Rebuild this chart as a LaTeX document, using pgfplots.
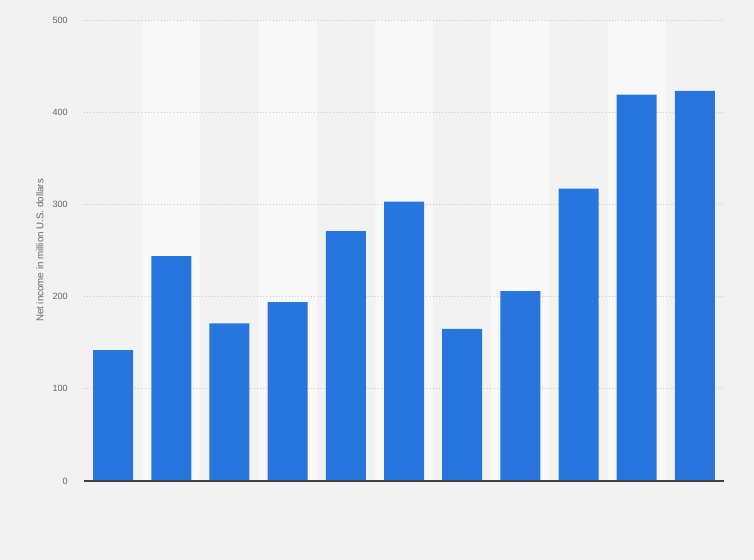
\documentclass[border=0pt]{standalone}
\usepackage{fontspec}
\setmainfont{Liberation Sans}
\usepackage{pgfplots}
\pgfplotsset{compat=1.18}
\definecolor{bg}{HTML}{F2F2F2}
\definecolor{stripe}{HTML}{F8F8F8}
\definecolor{barblue}{HTML}{2876DD}
\definecolor{txt}{HTML}{666666}
\definecolor{gridc}{HTML}{C8C8C8}
\pgfplotsset{
  layers/with page/.define layer set={
    pagebg, axis background, axis grid, axis ticks, axis lines,
    axis tick labels, main, axis descriptions, axis foreground
  }{},
}
\begin{document}
\begin{tikzpicture}
% page: 754x560 px at 0.75pt per px; axis box 640x461 px
\begin{axis}[
  set layers=with page,
  at={(63pt,59.25pt)}, anchor=south west,
  scale only axis,
  width=480pt, height=345.75pt,
  ybar, bar width=30pt, bar shift=0pt,
  xmin=-0.5, xmax=10.5,
  ymin=0, ymax=500,
  ytick={0,100,200,300,400,500},
  xtick=\empty,
  axis line style={draw=none},
  ymajorgrids,
  grid style={gridc, dotted, line width=0.5pt},
  major tick length=0pt,
  tick label style={font=\fontsize{6.8}{8}\selectfont, text=txt},
  /pgf/number format/assume math mode=true,
  yticklabel style={anchor=east, inner sep=0pt, xshift=-12pt},
  ylabel={Net income in million U.S. dollars},
  ylabel style={at={(axis description cs:-0.06875,0.5)}, anchor=center,
    font=\fontsize{7.3}{8.5}\selectfont, text=txt},
  clip=false,
]
\begin{pgfonlayer}{pagebg}
\fill[bg] (rel axis cs:-0.13125,-0.171367) rectangle (rel axis cs:1.046875,1.043384);
\end{pgfonlayer}
\begin{pgfonlayer}{axis background}
\fill[stripe] (axis cs:0.5,0) rectangle (axis cs:1.5,500);
\fill[stripe] (axis cs:2.5,0) rectangle (axis cs:3.5,500);
\fill[stripe] (axis cs:4.5,0) rectangle (axis cs:5.5,500);
\fill[stripe] (axis cs:6.5,0) rectangle (axis cs:7.5,500);
\fill[stripe] (axis cs:8.5,0) rectangle (axis cs:9.5,500);
\end{pgfonlayer}
\addplot[fill=barblue, draw=none] coordinates {
(0,142) (1,244) (2,171) (3,194) (4,271) (5,303)
(6,165) (7,206) (8,317) (9,419) (10,423)
};
\draw[color=black!75, line width=1pt] (axis cs:-0.5,0) -- (axis cs:10.5,0);
\end{axis}
\end{tikzpicture}
\end{document}
